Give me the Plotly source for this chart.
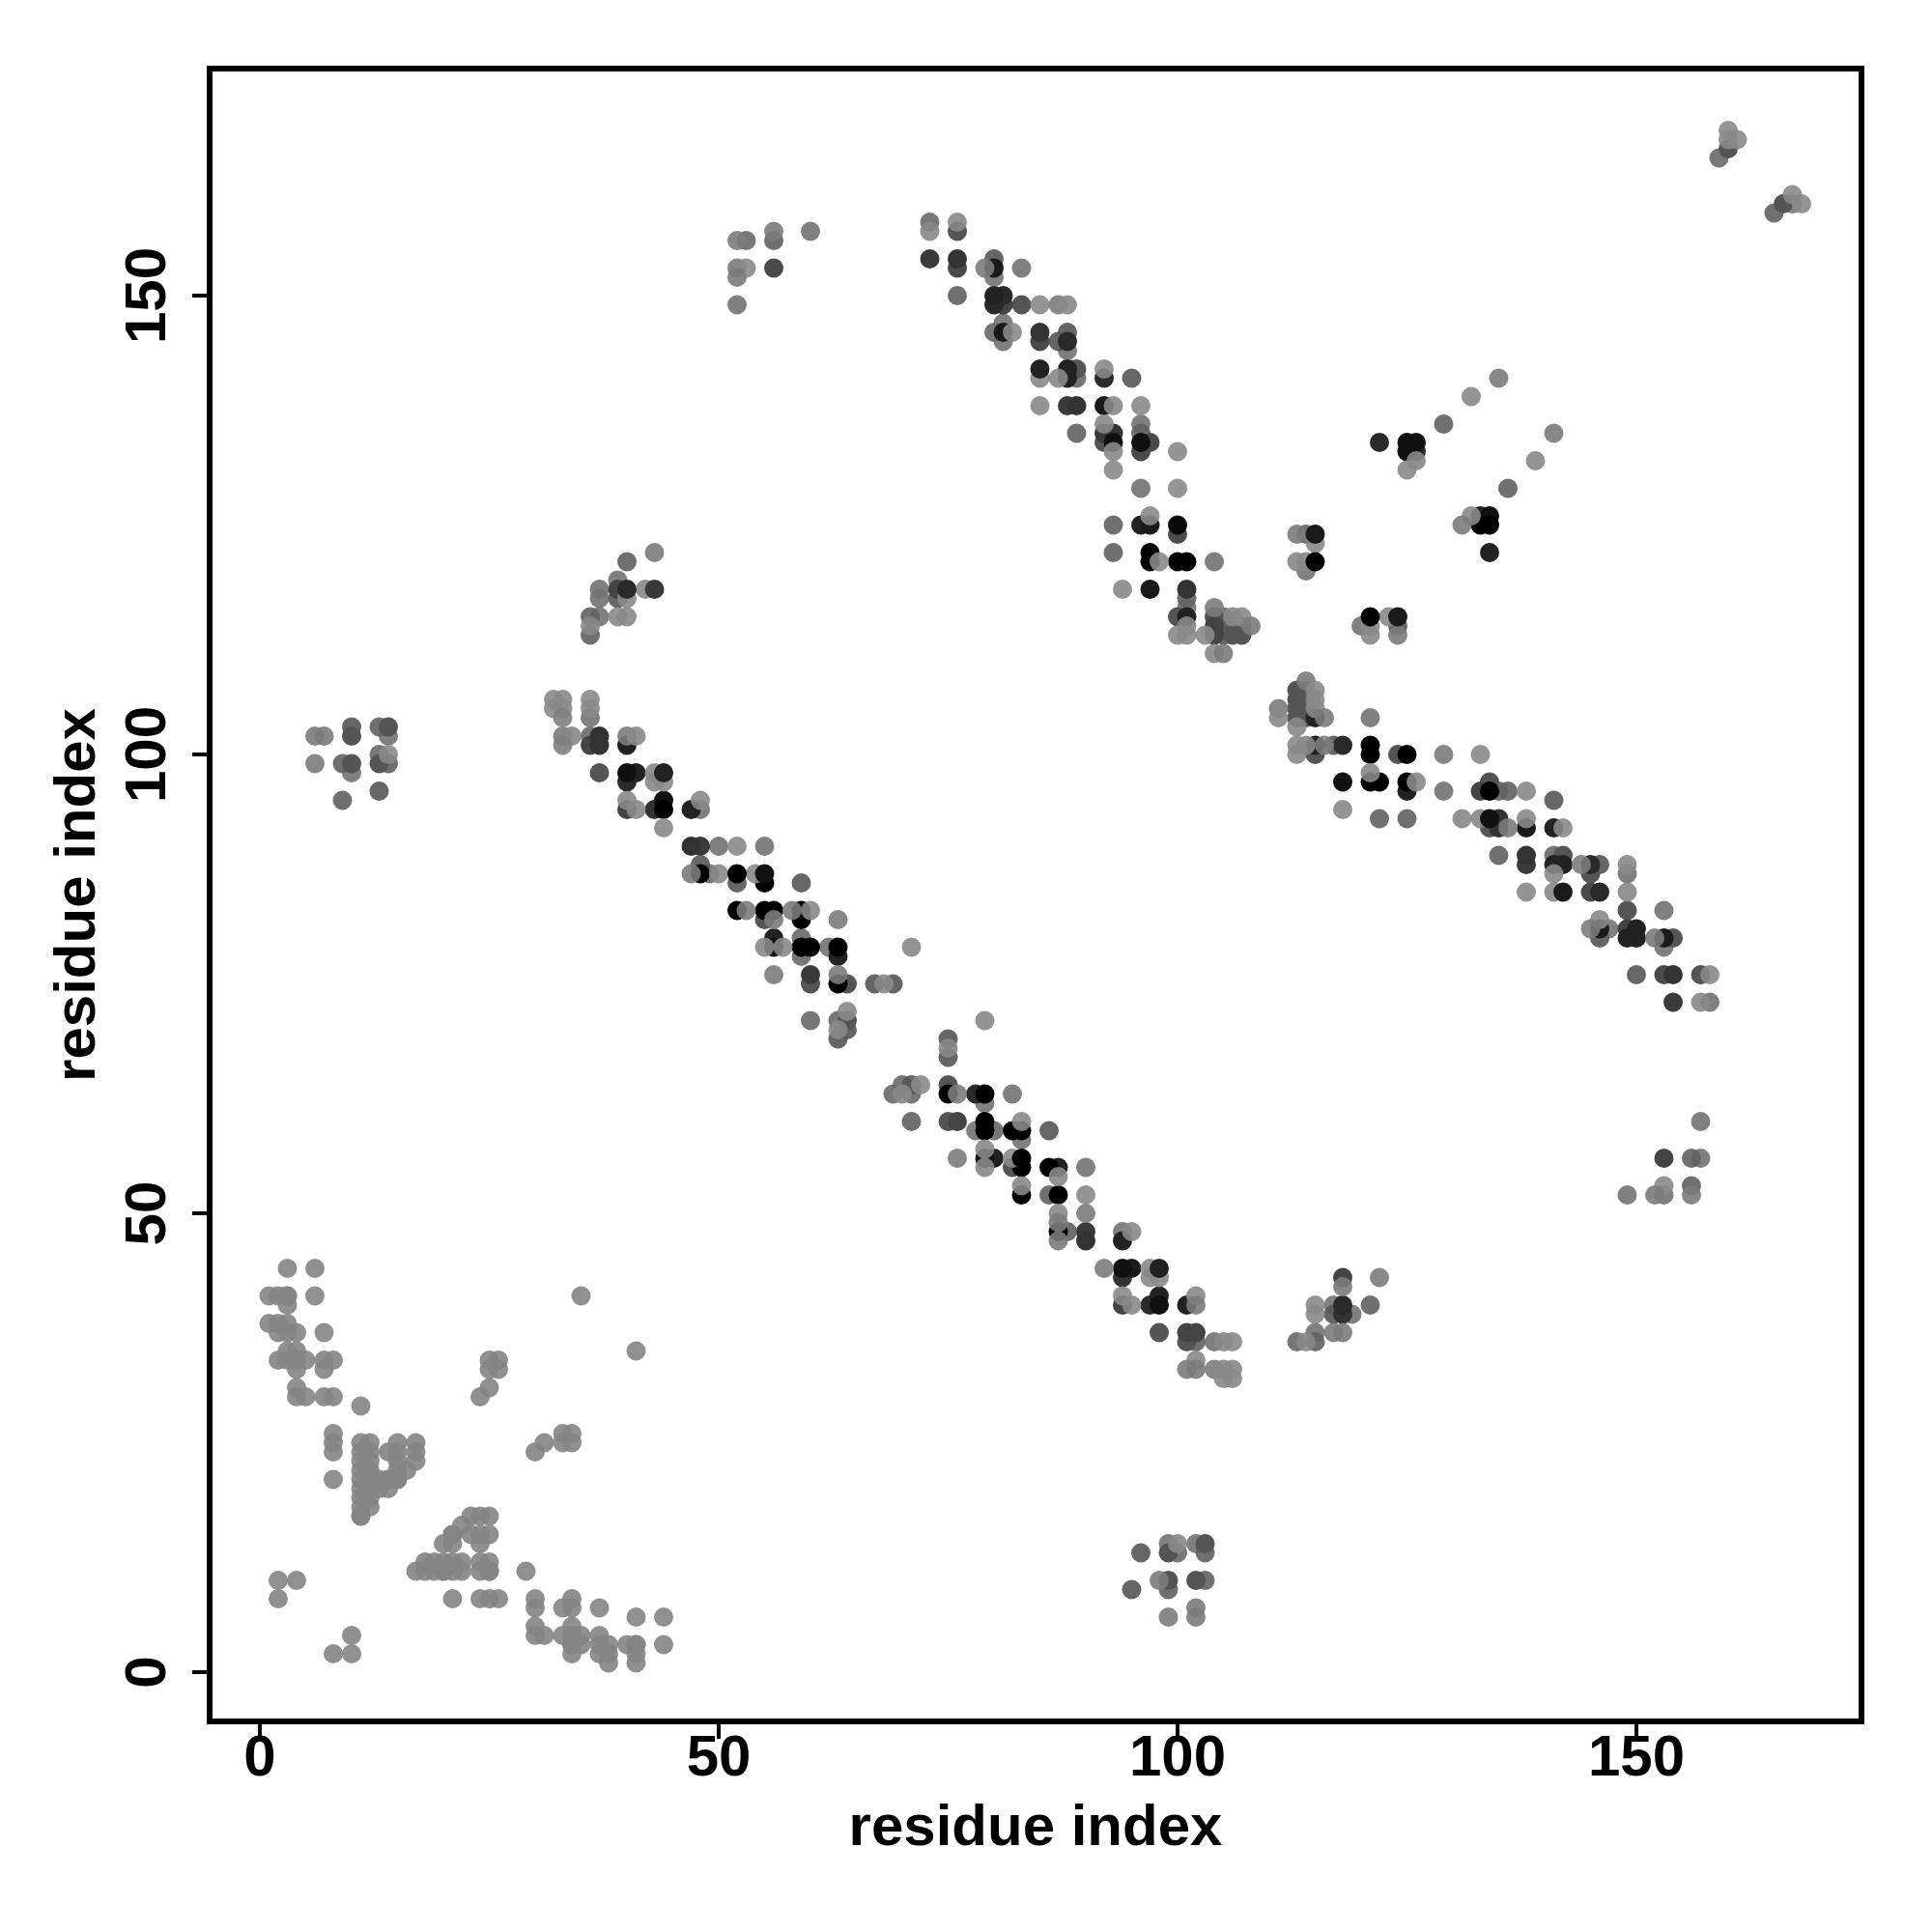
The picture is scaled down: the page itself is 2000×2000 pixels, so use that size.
import plotly.graph_objects as go

tick_values = [0, 50, 100, 150]
axis_title = "residue index"

# lower-left block: one shade, repeated entries are stacked points
low_x = [3,6, 1,2,3,3,6,35, 3, 1,2,3, 2,3,4,7, 3,4,41, 2,3,4,5,7,8,25,26, 4,7,25,26, 4,25, 4,5,7,8,24, 11,
         8,33,34, 8,11,12,15,17,31,33,34, 8,11,12,14,15,17,30, 11,12,15,17, 11,12,15,16,
         8,11,12,13,14,14,15,15, 11,12,13,14, 11,12, 11,12, 11,11,23,24,25, 22, 21,21,23,24,25, 20,21,24,
         18,19,20,21,22,24,25, 17,18,19,20,20,21,22,24,25,25,29, 2,4, 2,21,24,25,26,30,34, 30,33,34,37, 41,44, 30,34,
         10,30,31,33,34,35,37, 34,34,35,37,38,40,41,41,44, 8,10,34,37,38,41, 38,41]
low_y = [44,44, 41,41,41,41,41,41, 40, 38,38,38, 37,37,37,37, 35,35,35, 34,34,34,34,34,34,34,34, 33,33,33,33, 31,31, 30,30,30,30,30, 29,
         26,26,26, 25,25,25,25,25,25,25,25, 24,24,24,24,24,24,24, 23,23,23,23, 22,22,22,22,
         21,21,21,21,21,21,21,21, 20,20,20,20, 19,19, 18,18, 17,17,17,17,17, 16, 15,15,15,15,15, 14,14,14,
         12,12,12,12,12,12,12, 11,11,11,11,11,11,11,11,11,11,11, 10,10, 8,8,8,8,8,8,8, 7,7,7,7, 6,6, 5,5,
         4,4,4,4,4,4,4, 3,3,3,3,3,3,3,3,3, 2,2,2,2,2,2, 1,1]
low_shade = 144

# first diagonal, upper half
diag1a_x = [32,33,36, 32,33,36, 33,36, 33,34,36,37,40,41, 33,36,37,40, 37,40,41,43,44, 40,43,44, 40,44,48,
            40,41,43,44,47,48, 44, 47,48,50,52,55, 48, 47,48,49,50,52,54,55, 52,55,59, 52,53,55,56,58,59,60,
            55,56,59,63, 56,59, 55,56,57,59,60,62,63,71, 59,63, 56,60,63, 60,63,64,67,68,69, 64, 60,63,64, 63,64, 63]
diag1a_y = [106,106,106, 105,105,105, 104,104, 102,102,102,102,102,102, 101,101,101,101, 98,98,98,98,98, 97,97,97, 95,95,95,
            94,94,94,94,94,94, 92, 90,90,90,90,90, 88, 87,87,87,87,87,87,87, 86,86,86, 83,83,83,83,83,83,83,
            82,82,82,82, 80,80, 79,79,79,79,79,79,79,79, 78,78, 76,76,76, 75,75,75,75,75,75, 72, 71,71,71, 70,70, 69]
diag1a_g = [148,148,148, 148,148,148, 140,128, 136,148,119,51,136,148, 140,68,51,34, 85,17,34,148,34, 42,148,148, 148,17,148,
            68,148,51,0,34,128, 148, 51,58,128,148,128, 102, 136,0,119,148,0,148,17, 102,0,102, 0,136,0,0,136,0,148,
            85,136,0,136, 34,119, 148,17,148,0,0,128,0,148, 119,34, 136,58,136, 85,0,85,102,148,102, 148, 119,119,85, 148,102, 102]

# first diagonal, lower half
diag1b_x = [79, 75, 75, 75, 70,71,72,75, 69,70,71,75,76,78,79,82, 79, 71,75,76,79,83, 78,79,80,82,83,86, 83, 79,
            76,79,80,82,83, 79,82,83,86,87,90, 87, 83, 83,86,87,90, 87,90, 87, 87,88,90,94,95, 87,90,94,
            92,94,95,97,98, 94,97,98, 94,98,102, 94,95,97,98,101,102, 98,101,102, 101,102,104,105,106, 102,
            101,102,104,105,106, 105,106]
diag1b_y = [71, 69, 68, 67, 64,64,64,64, 63,63,63,63,63,63,63,63, 62, 60,60,60,60,60, 59,59,59,59,59,59, 58, 57,
            56,56,56,56,56, 55,55,55,55,55,55, 54, 53, 52,52,52,52, 50,50, 49, 48,48,48,48,48, 47,47,47,
            44,44,44,44,44, 43,43,43, 41,41,41, 40,40,40,40,40,40, 37,37,37, 36,36,36,36,36, 34,
            33,33,33,33,33, 32,32]
diag1b_g = [148, 102, 148, 102, 119,102,148,85, 119,148,119,0,136,42,0,128, 128, 112,85,68,0,148, 128,0,119,0,0,102, 128, 148,
            136,17,34,148,0, 148,85,0,0,34,128, 148, 148, 0,112,0,148, 148,136, 136, 0,112,58,128,148, 136,51,34,
            136,17,26,148,34, 51,148,148, 148,34,148, 68,148,42,17,34,136, 85,68,68, 85,112,128,148,148, 148,
            136,136,136,148,148, 148,148]

# upper diagonal
upper_x = [73,76, 73,76, 73,76,80, 76,79,80,83, 80, 76,80,81, 80,81,83,85,87,88, 81, 80,81,82,85,88, 81,85,87,88, 88,
           85,88,89,92, 85,87,88,89,92,95, 85,88,89,92,93,96, 92,96, 89,92,93,96, 92,93,96,97, 93,96,100, 93,
           96,100, 97, 93,96,97,100, 100, 93,97, 97,98,100,101,104, 94,97,101, 101, 101,104,
           100,101,104,105,106,107, 101,104,105,106,107,108, 100,101,103,104,105,106,107, 104,105]
upper_y = [158,158, 157,157, 154,154,154, 153,153,153,153, 152, 150,150,150, 149,149,149,149,149,149, 147, 146,146,146,146,146, 145,145,145,145, 144,
           142,142,142,142, 141,141,141,141,141,141, 138,138,138,138,138,138, 136,136, 135,135,135,135, 134,134,134,134, 133,133,133, 131,
           129,129, 126, 125,125,125,125, 124, 122,122, 121,121,121,121,121, 118,118,118, 117, 116,116,
           115,115,115,115,115,115, 114,114,114,114,114,114, 113,113,113,113,113,113,113, 111,111]
upper_g = [119,148, 148,85, 58,51,102, 74,136,26,128, 128, 112,34,42, 42,68,85,148,136,148, 128, 119,26,148,51,102, 128,74,102,42, 128,
           34,34,85,148, 148,148,34,119,42,102, 148,58,51,26,148,148, 148,128, 112,58,51,112, 85,17,17,74, 148,74,148, 148,
           128,148, 148, 112,34,26,10, 74, 112,0, 0,148,0,0,128, 148,26,51, 112, 128,136,
           85,34,85,119,148,148, 148,68,112,119,119,136, 148,148,148,68,102,85,85, 148,136]

# second diagonal
diag2_x = [114, 113,114,115, 113,114,115, 111,113,114,115, 111,113,114,115,116,121, 113,
           113,114,115,116,117,118,121, 113,115,121,124,125,129,133, 121, 118,121,122,125,126,134,
           125,129,133,134,135,136,138, 141, 118, 122,125,131,133,134,135,138, 134,135,136,138,141,142,
           135,138,141,142, 138,141,142,144,145,146,149, 141,145,149, 138,141,142,145,146,149, 149,153, 146,
           145,146,147,149,150, 146,149,150,152,153,154, 153, 150,153,154,157,158, 154,157,158]
diag2_y = [108, 107,107,107, 106,106,106, 105,105,105,105, 104,104,104,104,104,104, 103,
           101,101,101,101,101,101,101, 100,100,100,100,100,100,100, 98, 97,97,97,97,97,97,
           96,96,96,96,96,96,96, 95, 94, 93,93,93,93,93,93,93, 92,92,92,92,92,92,
           89,89,89,89, 88,88,88,88,88,88,88, 87,87,87, 85,85,85,85,85,85, 83,83, 82,
           81,81,81,81,81, 80,80,80,80,80,80, 79, 76,76,76,76,76, 73,73,73]
diag2_g = [136, 85,128,148, 85,119,148, 136,85,119,148, 148,85,85,34,136,128, 148,
           148,148,34,136,102,42,0, 148,85,0,85,0,136,148, 148, 17,0,0,0,148,85,
           34,128,68,0,112,112,148, 102, 148, 112,112,148,148,17,51,148, 85,51,136,26,34,148,
           112,51,119,85, 58,34,34,136,42,102,148, 148,85,128, 148,148,26,74,42,148, 85,128, 148,
           136,26,128,68,34, 102,34,34,136,26,85, 128, 102,74,51,85,148, 58,148,128]

# separate groups
groups_x = [56,60, 52,53,56, 52,53,56, 52, 52,
            43, 40, 39, 37,39,40,42,43, 37,39,40, 36,37,39,40, 36, 36,
            10,13,14, 6,7,10,14, 13,14, 6,9,10,13,14, 10, 13, 9,
            99,100,102,103, 96,99,100,103, 98,99,102,103, 95,99, 102, 99,102,
            157, 153,156,157, 153,156, 149,152,153,156,
            118,122, 118, 115,117,118,121, 115,117,118,119, 115,117,118, 113,114,115,
            160, 160,161, 160, 159, 167, 166,167,168, 165,
            122,125,126, 125,126, 126, 125, 113,114,115, 115, 113,114,115, 114,
            121,123,124, 120,121,124, 121,124,
            135, 132, 129, 141, 139, 136, 132,133,134, 131,133,134, 134]
groups_y = [157,157, 156,156,156, 153,153,153, 152, 149,
            122, 121, 119, 118,118,118,118,118, 117,117,117, 115,115,115,115, 114, 113,
            103,103,103, 102,102,102,102, 100,100, 99,99,99,99,99, 98, 96, 95,
            14,14,14,14, 13,13,13,13, 10,10,10,10, 9,9, 7, 6,6,
            60, 56,56,56, 53,53, 52,52,52,52,
            43,43, 42, 40,40,40,40, 39,39,39,39, 37,37,37, 36,36,36,
            168, 167,167, 166, 165, 161, 160,160,160, 159,
            134,134,134, 133,133, 132, 131, 124,124,124, 123, 121,121,121, 120,
            115,115,115, 114,114,114, 113,113,
            141, 139, 136, 135, 132, 129, 126,126,126, 125,125,125, 122]
groups_g = [136,128, 136,119,112, 136,148,74, 136, 128,
            136, 112, 128, 128,68,42,148,58, 128,102,148, 112,128,148,148, 148, 112,
            102,112,85, 136,136,85,128, 119,148, 136,112,85,85,112, 128, 102, 112,
            128,148,128,85, 102,85,119,112, 136,85,85,112, 102,112, 136, 136,136,
            128, 68,112,128, 148,112, 128,136,128,136,
            68,136, 136, 148,128,42,112, 148,102,51,128, 128,136,136, 119,148,112,
            148, 148,148, 85, 119, 148, 85,128,148, 112,
            42,17,17, 17,42, 148, 148, 136,112,26, 148, 148,148,0, 128,
            0,148,26, 128,148,102, 148,136,
            136, 148, 112, 136, 148, 112, 148,34,17, 136,0,0, 34]

# points seen lying over their lighter neighbours
over_x = [44, 98, 115, 115, 121, 124, 40, 43, 52, 55, 83, 85, 134, 142]
over_y = [98, 44, 124, 121, 115, 115, 118, 118, 87, 87, 56, 142, 93, 85]

xs = low_x + diag1a_x + diag1b_x + upper_x + diag2_x + groups_x
ys = low_y + diag1a_y + diag1b_y + upper_y + diag2_y + groups_y
gs = [low_shade] * len(low_x) + diag1a_g + diag1b_g + upper_g + diag2_g + groups_g
assert len(xs) == len(ys) == len(gs)

over = set(zip(over_x, over_y))


def layer(p):
    x, y, g = p
    if (x, y) in over:
        return (2, 0)
    if g >= 132:
        return (1, 0)
    return (0, -g)


points = sorted(zip(xs, ys, gs), key=layer)


def colour(g):
    if g < 90:
        return f"rgb({g},{g},{g})"
    v = round((g - 25.5) / 0.9)
    return f"rgba({v},{v},{v},0.9)"


fig = go.Figure(go.Scatter(
    x=[p[0] for p in points],
    y=[p[1] for p in points],
    mode="markers",
    marker=dict(size=20, color=[colour(p[2]) for p in points], line=dict(width=0)),
    hoverinfo="skip",
))

font_family = "Liberation Sans"
axis_common = dict(
    tickvals=tick_values,
    ticks="outside",
    ticklen=15,
    tickwidth=4,
    tickcolor="black",
    showline=True,
    linewidth=6,
    linecolor="black",
    mirror=True,
    showgrid=False,
    zeroline=False,
    title=dict(text=f"<b>{axis_title}</b>", font=dict(family=font_family, size=60, color="black")),
    tickfont=dict(family=font_family, size=60, color="black", weight="bold"),
)
fig.update_xaxes(range=[-5.158, 174.21], ticklabelstandoff=-34, **axis_common)
fig.update_yaxes(range=[-5.05, 174.42], tickangle=-90, ticklabelstandoff=4, ticklabelshift=9, **axis_common)
fig["layout"]["xaxis"]["title"]["standoff"] = 20
fig["layout"]["yaxis"]["title"]["standoff"] = 1

fig.update_layout(
    width=2000, height=2000, autosize=False,
    margin=dict(l=212, r=84, t=66, b=229, pad=0),
    plot_bgcolor="white", paper_bgcolor="white", showlegend=False,
)
fig.write_html("out.html")
